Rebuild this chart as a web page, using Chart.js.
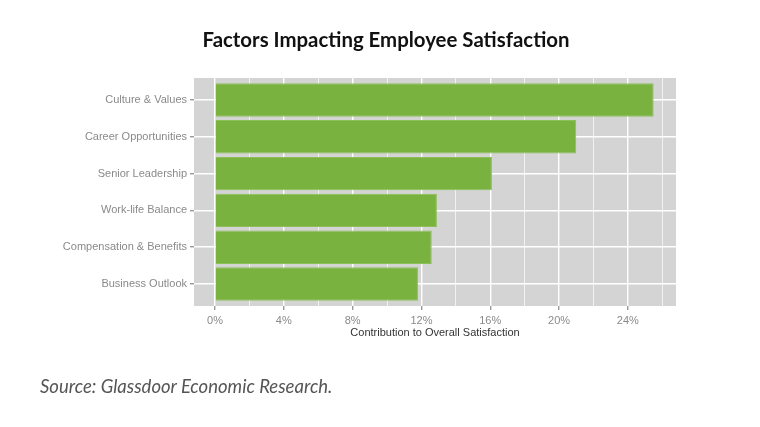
<!DOCTYPE html>
<html>
<head>
<meta charset="utf-8">
<script src="https://cdn.jsdelivr.net/npm/chart.js@4"></script>
<style>
  html, body { margin: 0; padding: 0; background: #fff; }
  #wrap { position: relative; width: 760px; height: 427px; }
  #title {
    position: absolute; left: 0; top: 27px; width: 772px; text-align: center;
    font-family: Lato, sans-serif; font-weight: bold; font-size: 20.4px; color: #111;
  }
  #source {
    position: absolute; left: 40px; top: 375px;
    font-family: Lato, sans-serif; font-style: italic; font-size: 18.5px; color: #555;
  }
</style>
</head>
<body>
<div id="wrap">
  <canvas id="chart" width="760" height="427"></canvas>
  <div id="title">Factors Impacting Employee Satisfaction</div>
  <div id="source">Source: Glassdoor Economic Research.</div>
</div>
<script>
// Factors, top to bottom.
var factors = [
    'Culture & Values',
    'Career Opportunities',
    'Senior Leadership',
    'Work-life Balance',
    'Compensation & Benefits',
    'Business Outlook'
];
// Contribution to overall satisfaction, in percent.
var contribution = [25.5, 21.0, 16.1, 12.9, 12.6, 11.8];
// Labelled x ticks (percent).
var xTicks = [0, 4, 8, 12, 16, 20, 24];

(function () {
    'use strict';

    var panelBg = {
        id: 'panelBg',
        beforeDraw: function (chart) {
            var a = chart.chartArea, c = chart.ctx;
            c.save();
            c.fillStyle = '#d4d4d4';
            c.fillRect(a.left, a.top, a.right - a.left, a.bottom - a.top);
            c.restore();
        }
    };

    function isMajor(v) { return xTicks.indexOf(v) !== -1; }

    new Chart(document.getElementById('chart'), {
        type: 'bar',
        data: {
            datasets: [{
                data: contribution.map(function (v, i) { return { x: v, y: i }; }),
                backgroundColor: '#7ab240',
                borderColor: '#8cbf58',
                borderWidth: 1,
                categoryPercentage: 1,
                barPercentage: 0.91
            }]
        },
        options: {
            indexAxis: 'y',
            responsive: false,
            animation: false,
            layout: { padding: { top: 78, right: 84, bottom: 81, left: 0 } },
            plugins: { legend: { display: false }, tooltip: { enabled: false } },
            scales: {
                x: {
                    type: 'linear',
                    min: -1.22,
                    max: 26.8,
                    border: { display: false },
                    grid: {
                        color: '#ffffff',
                        lineWidth: function (ctx) { return isMajor(ctx.tick.value) ? 1.4 : 0.7; },
                        tickColor: function (ctx) { return isMajor(ctx.tick.value) ? '#999' : 'rgba(0,0,0,0)'; },
                        tickLength: 4
                    },
                    ticks: {
                        stepSize: 2,
                        includeBounds: false,
                        autoSkip: false,
                        maxRotation: 0,
                        padding: 4,
                        color: '#8a8a8a',
                        font: { family: 'Liberation Sans', size: 11 },
                        callback: function (v) { return isMajor(v) ? v + '%' : ''; }
                    },
                    title: {
                        display: true,
                        text: 'Contribution to Overall Satisfaction',
                        color: '#333',
                        font: { family: 'Liberation Sans', size: 11 },
                        padding: { top: 0, bottom: 6 }
                    },
                    afterFit: function (s) { s.height = 40; }
                },
                y: {
                    type: 'linear',
                    min: -0.6,
                    max: 5.6,
                    reverse: true,
                    offset: false,
                    border: { display: false },
                    grid: {
                        offset: false,
                        color: '#ffffff',
                        lineWidth: 1.4,
                        tickColor: '#999',
                        tickLength: 4
                    },
                    ticks: {
                        stepSize: 1,
                        includeBounds: false,
                        autoSkip: false,
                        padding: 3,
                        color: '#8a8a8a',
                        font: { family: 'Liberation Sans', size: 11 },
                        callback: function (v) { return factors[v] || ''; }
                    },
                    afterFit: function (s) { s.width = 194; }
                }
            }
        },
        plugins: [panelBg]
    });
})();
</script>
</body>
</html>
